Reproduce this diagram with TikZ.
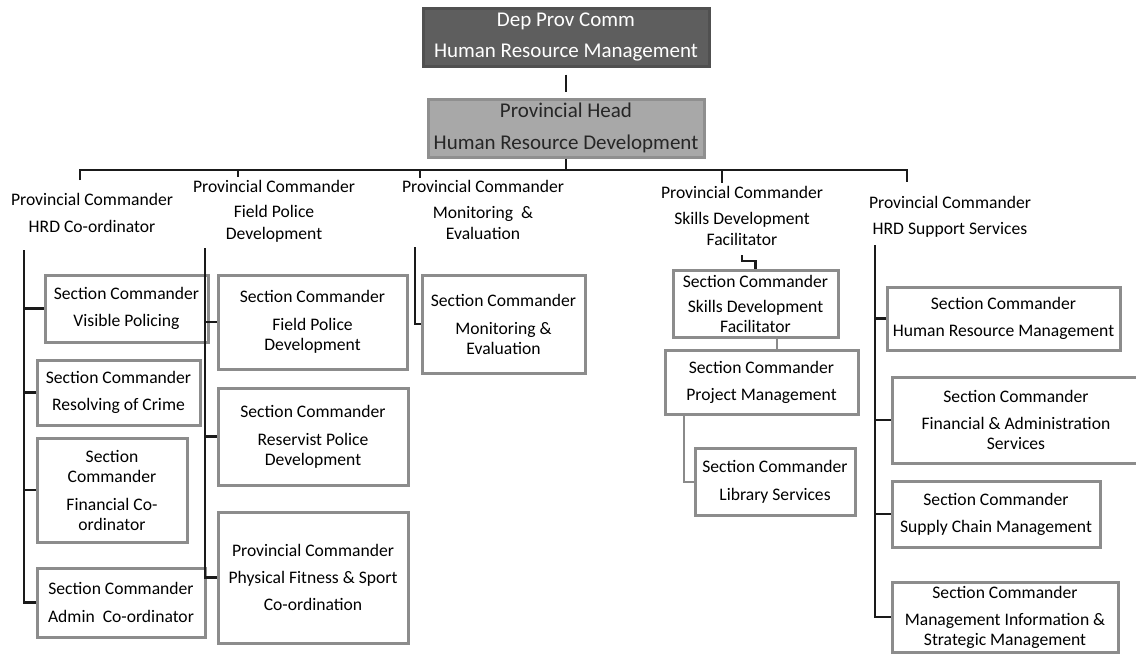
\documentclass[tikz,border=0pt]{standalone}
\usepackage{fontspec}
\setmainfont{Carlito}
\usetikzlibrary{calc}
\definecolor{boxline}{HTML}{8C8C8C}
\definecolor{topfill}{HTML}{5E5E5E}
\definecolor{headfill}{HTML}{A8A8A8}
\definecolor{wire}{HTML}{1A1A1A}
\definecolor{wirelt}{HTML}{8A8A8A}
\tikzset{
  box/.style={draw=boxline, fill=white, line width=3pt, align=center,
              inner sep=1pt, font=\fontsize{17.6}{20}\selectfont},
  topbox/.style={box, fill=topfill, draw=topfill!85!black, text=white,
                 font=\fontsize{21}{31}\selectfont},
  headbox/.style={box, fill=headfill, draw=headfill!85!black, text=black!85,
                  font=\fontsize{21}{32}\selectfont},
  hdr/.style={align=center, inner sep=0pt, anchor=north,
              font=\fontsize{17.6}{20}\selectfont},
  ln/.style={draw=wire, line width=2.4pt},
  lnlt/.style={draw=wirelt, line width=2pt}
}

\begin{document}
\begin{tikzpicture}[x=1pt,y=-1pt]
  \useasboundingbox (0,0) rectangle (1136,657);
  \fill[white] (0,0) rectangle (1136,657);

  \node[topbox, minimum width=286pt, minimum height=58pt] (top) at (566,37)
     {Dep Prov Comm\\Human Resource Management};
  \node[headbox, minimum width=276pt, minimum height=58pt] (head) at (566,128)
     {Provincial Head\\Human Resource Development};

  \node[hdr] (h1) at (92,193) {Provincial Commander\\[7pt]HRD Co-ordinator};
  \node[hdr] (h2) at (274,180) {Provincial Commander\\[5pt]Field Police\\[2pt]Development};
  \node[hdr] (h3) at (483,180) {Provincial Commander\\[6pt]Monitoring\ \ \&\\[1pt]Evaluation};
  \node[hdr] (h4) at (742,186) {Provincial Commander\\[6pt]Skills Development\\[1pt]Facilitator};
  \node[hdr] (h5) at (950,196) {Provincial Commander\\[6pt]HRD Support Services};

  \node[box, minimum width=163pt, minimum height=67pt] (vp) at (126.5,308.5)
     {Section Commander\\[7pt]Visible Policing};
  \node[box, minimum width=163pt, minimum height=65pt] (res) at (118.5,392.5)
     {Section Commander\\[7pt]Resolving of Crime};
  \node[box, minimum width=150pt, minimum height=104pt] (fco) at (112,490)
     {Section\\Commander\\[8pt]Financial Co-\\ordinator};
  \node[box, minimum width=168pt, minimum height=69pt] (adm) at (121,602.5)
     {Section Commander\\[8pt]Admin\ \ Co-ordinator};

  \node[box, minimum width=189pt, minimum height=94pt] (fpd) at (312.5,322)
     {Section Commander\\[8pt]Field Police\\Development};
  \node[box, minimum width=190pt, minimum height=97pt] (rpd) at (313,436.5)
     {Section Commander\\[8pt]Reservist Police\\Development};
  \node[box, minimum width=190pt, minimum height=131pt] (pfs) at (313,577.5)
     {Provincial Commander\\[7pt]Physical Fitness \& Sport\\[7pt]Co-ordination};

  \node[box, minimum width=163pt, minimum height=98pt] (mon) at (503.5,324)
     {Section Commander\\[8pt]Monitoring \&\\Evaluation};

  \node[box, minimum width=165pt, minimum height=67pt, inner sep=0pt] (sdf) at (755.5,303.5)
     {Section Commander\\[5pt]Skills Development\\Facilitator};
  \node[box, minimum width=193pt, minimum height=64pt] (proj) at (761.5,382)
     {Section Commander\\[7pt]Project Management};
  \node[box, minimum width=160pt, minimum height=67pt] (lib) at (775,481.5)
     {Section Commander\\[8pt]Library Services};

  \node[box, minimum width=233pt, minimum height=63pt] (hrm) at (1003.5,318.5)
     {Section Commander\\[7pt]Human Resource Management};
  \node[box, minimum width=248pt, minimum height=86pt] (fin) at (1016,420)
     {Section Commander\\[7pt]Financial \& Administration\\Services};
  \node[box, minimum width=208pt, minimum height=66pt] (sup) at (996,514)
     {Section Commander\\[7pt]Supply Chain Management};
  \node[box, minimum width=226pt, minimum height=70pt] (mis) at (1005,617)
     {Section Commander\\[7pt]Management Information \&\\Strategic Management};

  \draw[ln, shorten <=7pt, shorten >=6pt] (top.south) -- (head.north);

  \coordinate (bus) at (566,170);
  \coordinate (b1) at (80,180);
  \coordinate (b2) at (238,177);
  \coordinate (b3) at (420,178);
  \coordinate (b4) at (722,183);
  \coordinate (b5) at (907,182);
  \draw[ln] (head.south) -- (bus);
  \draw[ln] (b1) -- (b1 |- bus) -- (b5 |- bus) -- (b5);
  \foreach \b in {b2,b3,b4} \draw[ln] (\b |- bus) -- (\b);

  \coordinate (s1) at (24,250);
  \coordinate (s2) at (205,248);
  \coordinate (s3) at (415,247);
  \coordinate (s4) at (742,255);
  \coordinate (s5) at (875,245);

  \draw[ln] (s1) |- (adm.west);
  \foreach \n in {vp,res,fco} \draw[ln] (s1 |- \n.west) -- (\n.west);
  \draw[ln] (s2) |- (pfs.west);
  \foreach \n in {fpd,rpd} \draw[ln] (s2 |- \n.west) -- (\n.west);
  \draw[ln] (s3) |- (mon.west);
  \draw[ln] (s4) -- ++(0,6) -| (sdf.north);
  \coordinate (t4) at ([xshift=21pt]sdf.south);
  \draw[lnlt] (t4) -- (t4 |- proj.north);
  \coordinate (t5) at ([xshift=20pt]proj.south west);
  \draw[lnlt] (t5) |- (lib.west);
  \draw[ln] (s5) |- (mis.west);
  \foreach \n in {hrm,fin,sup} \draw[ln] (s5 |- \n.west) -- (\n.west);
\end{tikzpicture}
\end{document}
